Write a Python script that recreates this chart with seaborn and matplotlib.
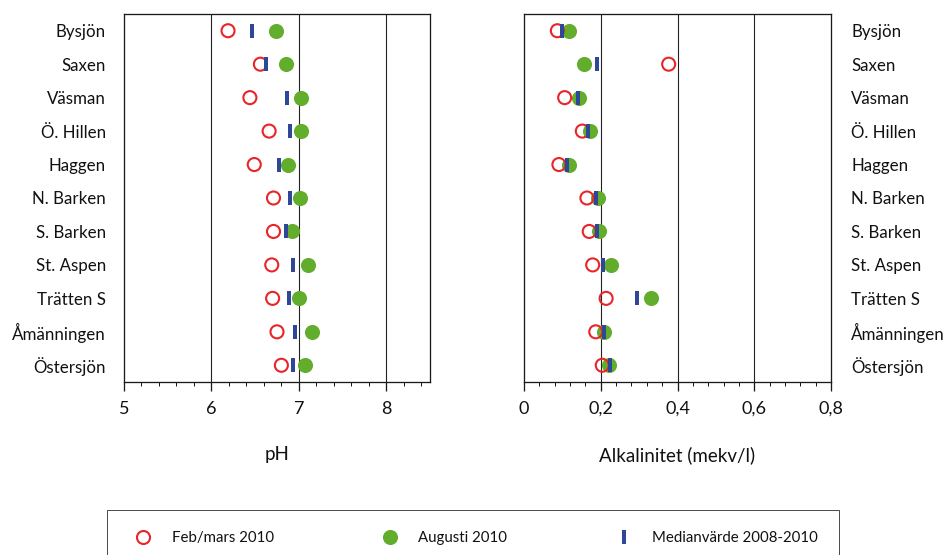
import matplotlib
matplotlib.use("Agg")
import matplotlib.pyplot as plt
from matplotlib.lines import Line2D
from matplotlib.ticker import MultipleLocator
import numpy as np
import pandas as pd
import seaborn as sns

# Lakes, top to bottom
sjoar = ["Bysjön", "Saxen", "Väsman", "Ö. Hillen", "Haggen", "N. Barken",
         "S. Barken", "St. Aspen", "Trätten S", "Åmänningen", "Östersjön"]

# pH
ph_feb = [6.19, 6.56, 6.44, 6.66, 6.49, 6.71, 6.71, 6.69, 6.70, 6.75, 6.80]
ph_aug = [6.74, 6.85, 7.02, 7.02, 6.88, 7.01, 6.92, 7.11, 7.00, 7.15, 7.07]
ph_med = [6.46, 6.62, 6.87, 6.90, 6.77, 6.90, 6.85, 6.93, 6.89, 6.96, 6.93]

# Alkalinity (mekv/l)
alk_feb = [0.087, 0.377, 0.106, 0.152, 0.091, 0.164, 0.170, 0.179, 0.214, 0.187, 0.204]
alk_aug = [0.117, 0.156, 0.143, 0.173, 0.117, 0.193, 0.196, 0.227, 0.331, 0.209, 0.222]
alk_med = [0.100, 0.189, 0.140, 0.167, 0.112, 0.187, 0.189, 0.205, 0.295, 0.209, 0.223]

lbl_feb = "Feb/mars 2010"
lbl_aug = "Augusti 2010"
lbl_med = "Medianvärde 2008-2010"

RED = "#e8262a"
GREEN = "#62ae2c"
BLUE = "#2e4797"

df = pd.DataFrame({
    "sjo": sjoar,
    "ph_feb": ph_feb, "ph_aug": ph_aug, "ph_med": ph_med,
    "alk_feb": alk_feb, "alk_aug": alk_aug, "alk_med": alk_med,
})

sns.set_theme(style="white")
plt.rcParams["font.family"] = ["Lato", "DejaVu Sans"]
plt.rcParams["font.size"] = 12

DPI = 100
fig = plt.figure(figsize=(946 / DPI, 555 / DPI), dpi=DPI)
W, H = 946, 555

def px_axes(x0, y0, x1, y1):
    return fig.add_axes([x0 / W, 1 - y1 / H, (x1 - x0) / W, (y1 - y0) / H])

ax_ph = px_axes(124, 14, 430, 382)
ax_alk = px_axes(524, 14, 831, 382)

# tall thin bar used for the median marker
bar_marker = [(-0.16, -0.5), (0.16, -0.5), (0.16, 0.5), (-0.16, 0.5), (-0.16, -0.5)]

S_RING = 88
S_DOT = 118
S_BAR = 92
px = 72 / DPI  # points per pixel


def draw_panel(ax, feb, aug, med):
    sns.scatterplot(data=df, x=aug, y="sjo", ax=ax, color=GREEN, s=S_DOT,
                    linewidth=0, marker="o", zorder=3, legend=False)
    sns.scatterplot(data=df, x=feb, y="sjo", ax=ax, facecolor="none",
                    edgecolor=RED, s=S_RING, linewidth=2.1 * px, marker="o",
                    zorder=4, legend=False)
    sns.scatterplot(data=df, x=med, y="sjo", ax=ax, color=BLUE, s=S_BAR,
                    linewidth=0, marker=bar_marker, zorder=5, legend=False)
    ax.set_ylim(len(sjoar) - 0.5, -0.5)
    ax.set_ylabel("")
    for sp in ax.spines.values():
        sp.set_color("#1a1a1a")
        sp.set_linewidth(1.3 * px)
        sp.set_visible(True)
    ax.grid(False)
    ax.tick_params(axis="y", length=0, labelsize=12.2, colors="#111111")
    ax.tick_params(axis="x", which="major", direction="out", length=9 * px,
                   width=1.3 * px, color="#1a1a1a", bottom=True, pad=7,
                   labelsize=13, labelcolor="#111111")
    ax.tick_params(axis="x", which="minor", direction="out", length=3.5 * px,
                   width=1.0 * px, color="#1a1a1a", bottom=True)


draw_panel(ax_ph, "ph_feb", "ph_aug", "ph_med")
ax_ph.set_xlim(5, 8.5)
ax_ph.xaxis.set_major_locator(MultipleLocator(1))
ax_ph.xaxis.set_minor_locator(MultipleLocator(0.2))
for v in [6, 7, 8]:
    ax_ph.axvline(v, color="#222222", lw=1.1 * px, zorder=1)
ax_ph.set_xticks([5, 6, 7, 8])
ax_ph.set_xticklabels(["5", "6", "7", "8"])
ax_ph.tick_params(axis="y", pad=18 * px)
ax_ph.set_xlabel("pH", fontsize=13.5, labelpad=21, color="#111111")

draw_panel(ax_alk, "alk_feb", "alk_aug", "alk_med")
ax_alk.set_xlim(0, 0.8)
ax_alk.xaxis.set_minor_locator(MultipleLocator(0.04))
for v in [0.2, 0.4, 0.6]:
    ax_alk.axvline(v, color="#222222", lw=1.1 * px, zorder=1)
ticks = [0, 0.2, 0.4, 0.6, 0.8]
ax_alk.set_xticks(ticks)
ax_alk.set_xticklabels(["0", "0,2", "0,4", "0,6", "0,8"])
ax_alk.yaxis.tick_right()
ax_alk.tick_params(axis="y", pad=20 * px, left=False, right=False)
ax_alk.set_xlabel("Alkalinitet (mekv/l)", fontsize=13.5, labelpad=21,
                  color="#111111")

handles = [
    Line2D([], [], linestyle="none", marker="o", markersize=np.sqrt(S_RING),
           markerfacecolor="none", markeredgecolor=RED, markeredgewidth=2.1 * px),
    Line2D([], [], linestyle="none", marker="o", markersize=np.sqrt(S_DOT),
           markerfacecolor=GREEN, markeredgewidth=0),
    Line2D([], [], linestyle="none", marker=bar_marker, markersize=np.sqrt(S_BAR),
           markerfacecolor=BLUE, markeredgewidth=0),
]
leg = fig.legend(handles, [lbl_feb, lbl_aug, lbl_med], loc="upper left",
                 bbox_to_anchor=(107 / W, 1 - 510 / H, 732 / W, 0),
                 mode="expand", ncol=3, frameon=True, fancybox=False,
                 edgecolor="#222222", fontsize=10.8, borderpad=1.4,
                 handletextpad=0.9, handlelength=2.0, borderaxespad=0)
leg.get_frame().set_linewidth(1.0 * px)
for t in leg.get_texts():
    t.set_color("#111111")

fig.savefig("out.png", dpi=DPI)
